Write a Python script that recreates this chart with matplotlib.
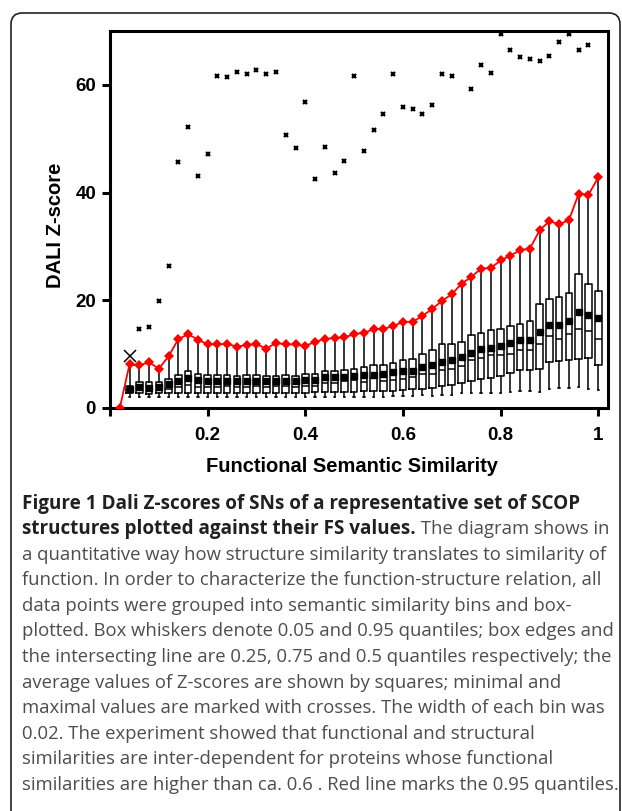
import matplotlib
matplotlib.use("Agg")
import matplotlib.pyplot as plt
import numpy as np
from matplotlib.patches import FancyBboxPatch

# ---------------- data ----------------
bins = [0.04, 0.06, 0.08, 0.10, 0.12, 0.14, 0.16, 0.18, 0.20,
        0.22, 0.24, 0.26, 0.28, 0.30, 0.32, 0.34, 0.36, 0.38, 0.40,
        0.42, 0.44, 0.46, 0.48, 0.50, 0.52, 0.54, 0.56, 0.58, 0.60,
        0.62, 0.64, 0.66, 0.68, 0.70, 0.72, 0.74, 0.76, 0.78, 0.80,
        0.82, 0.84, 0.86, 0.88, 0.90, 0.92, 0.94, 0.96, 0.98, 1.00]

q95 = [8.1, 7.9, 8.5, 7.3, 9.6, 12.8, 13.7, 12.7, 11.8,
       11.8, 11.9, 11.4, 11.7, 11.9, 11.0, 12.1, 11.8, 11.8, 11.5,
       12.3, 12.8, 13.0, 13.1, 13.7, 14.0, 14.6, 14.7, 15.2, 16.0,
       16.0, 17.1, 18.4, 19.9, 21.1, 23.1, 24.3, 25.9, 26.0, 27.4,
       28.3, 29.3, 29.6, 33.0, 34.7, 34.1, 34.9, 39.8, 39.6, 42.8]

q75 = [4.0, 4.9, 4.8, 4.8, 5.3, 6.2, 6.8, 6.4, 6.2,
       6.2, 6.2, 6.0, 6.1, 6.2, 6.0, 6.0, 6.1, 6.0, 6.4,
       6.3, 6.9, 6.9, 7.0, 7.3, 7.6, 8.0, 8.0, 8.4, 8.9,
       9.1, 10.1, 10.7, 11.8, 11.8, 12.2, 13.5, 14.0, 14.4, 14.7,
       15.3, 15.6, 16.2, 19.3, 20.2, 20.7, 21.4, 24.9, 23.0, 21.8]

median = [3.4, 3.3, 3.1, 3.3, 3.6, 3.9, 4.3, 3.9, 3.9,
          3.9, 4.0, 3.9, 3.9, 4.0, 3.9, 4.0, 4.0, 3.9, 4.1,
          4.1, 4.6, 4.6, 5.0, 5.2, 4.9, 5.6, 5.1, 5.2, 5.4,
          5.7, 6.4, 6.4, 7.0, 7.3, 7.8, 8.9, 9.2, 9.8, 9.8,
          10.1, 10.7, 10.7, 11.9, 13.3, 12.9, 13.7, 14.6, 14.3, 12.9]

q25 = [2.8, 2.7, 2.6, 2.7, 2.7, 2.7, 2.7, 2.7, 2.7,
       2.7, 2.7, 2.7, 2.7, 2.7, 2.7, 2.8, 2.8, 2.8, 2.8,
       2.9, 3.0, 3.0, 2.9, 3.0, 3.1, 3.1, 3.1, 3.2, 3.3,
       3.5, 3.6, 3.8, 4.1, 4.3, 4.6, 5.1, 5.4, 5.6, 5.9,
       6.5, 7.1, 7.0, 7.2, 8.6, 8.8, 8.9, 9.1, 9.3, 8.0]

q05 = [2.1, 2.1, 2.0, 2.1, 2.1, 2.1, 2.1, 2.1, 2.1,
       2.1, 2.1, 2.1, 2.1, 2.1, 2.1, 2.1, 2.1, 2.1, 2.1,
       2.1, 2.1, 2.1, 2.1, 2.1, 2.1, 2.1, 2.1, 2.2, 2.2,
       2.2, 2.4, 2.3, 2.4, 2.5, 2.7, 2.7, 2.8, 2.7, 2.8,
       2.9, 3.1, 3.2, 3.0, 3.6, 3.7, 3.8, 3.9, 3.6, 3.3]

mean = [3.6, 3.9, 3.8, 3.9, 4.4, 5.1, 5.5, 5.2, 5.1,
        5.1, 5.1, 5.0, 5.0, 5.1, 5.0, 5.1, 5.1, 5.0, 5.2,
        5.2, 5.7, 5.7, 5.7, 5.9, 6.1, 6.2, 6.3, 6.6, 6.9,
        6.9, 7.7, 8.0, 8.6, 8.9, 9.5, 10.2, 10.9, 11.2, 11.5,
        12.1, 12.7, 12.7, 14.1, 15.4, 15.5, 16.1, 17.8, 17.3, 16.7]

maxima = [9.7, 14.6, 15.1, 19.8, 26.3, 45.7, 52.2, 43.0, 47.1,
          61.7, 61.4, 62.4, 62.0, 62.7, 62.1, 62.3, 50.6, 48.3, 56.8,
          42.5, 48.4, 43.6, 45.9, 61.7, 47.7, 51.6, 54.6, 62.0, 55.9,
          55.6, 54.5, 56.3, 62.0, 61.7, np.nan, 59.2, 63.6, 62.2, 69.4,
          66.4, 65.2, 64.8, 64.4, 65.3, 68.0, 69.5, 66.4, 67.4, np.nan]

# the 0.95-quantile line also has a point for the empty first bin
red_x = [0.02] + bins
red_y = [0.0] + q95

xticks = [0, 0.2, 0.4, 0.6, 0.8, 1.0]
xticklabels = ["", "0.2", "0.4", "0.6", "0.8", "1"]
yticks = [0, 20, 40, 60]
yticklabels = ["0", "20", "40", "60"]

caption_bold_1 = "Figure 1 Dali Z-scores of SNs of a representative set of SCOP"
caption_bold_2 = "structures plotted against their FS values."
caption_rest_2 = " The diagram shows in"
caption_lines = [
    "a quantitative way how structure similarity translates to similarity of",
    "function. In order to characterize the function-structure relation, all",
    "data points were grouped into semantic similarity bins and box-",
    "plotted. Box whiskers denote 0.05 and 0.95 quantiles; box edges and",
    "the intersecting line are 0.25, 0.75 and 0.5 quantiles respectively; the",
    "average values of Z-scores are shown by squares; minimal and",
    "maximal values are marked with crosses. The width of each bin was",
    "0.02. The experiment showed that functional and structural",
    "similarities are inter-dependent for proteins whose functional",
    "similarities are higher than ca. 0.6 . Red line marks the 0.95 quantiles.",
]

# ---------------- figure ----------------
W, H = 622, 811
fig = plt.figure(figsize=(W / 100, H / 100), dpi=100)

# rounded frame (open at bottom)
frame = FancyBboxPatch((11 / W, -0.05), (620 - 11) / W, (H - 13) / H + 0.05,
                       boxstyle="round,pad=0,rounding_size=0.018",
                       transform=fig.transFigure, fill=False,
                       edgecolor="#222222", linewidth=1.2,
                       mutation_aspect=W / H)
fig.patches.append(frame)

ax = fig.add_axes([110 / W, 1 - 408 / H, 498 / W, 377 / H])

stats = []
for i in range(len(bins)):
    stats.append(dict(med=median[i], q1=q25[i], q3=q75[i],
                      whislo=q05[i], whishi=q95[i], mean=mean[i],
                      fliers=[]))

lw = 1.1
ax.bxp(stats, positions=bins, widths=0.0135, showmeans=True,
       showfliers=False, manage_ticks=False, capwidths=0.003,
       boxprops=dict(color="black", linewidth=lw),
       whiskerprops=dict(color="black", linewidth=lw),
       capprops=dict(color="black", linewidth=lw),
       medianprops=dict(color="black", linewidth=lw),
       meanprops=dict(marker="s", markerfacecolor="black",
                      markeredgecolor="black", markersize=4.2))

ax.plot(red_x, red_y, color="#ff0000", linewidth=1.3, marker="D",
        markersize=5.5, markeredgewidth=0, zorder=5)

# maxima crosses (first bin drawn with larger cross)
ax.plot(bins[1:], maxima[1:], linestyle="none", marker="x", markersize=3.2,
        markeredgewidth=1.6, color="black", zorder=6)
ax.plot(bins[:1], maxima[:1], linestyle="none", marker="x", markersize=8,
        markeredgewidth=1.1, color="black", zorder=6)

ax.set_xlim(0, 1.02)
ax.set_ylim(0, 70)

for s in ax.spines.values():
    s.set_linewidth(2.2)

tick_font = dict(family="Liberation Sans", weight="bold", size=13.5)
ax.set_xticks(xticks)
ax.set_xticklabels(xticklabels, fontdict=tick_font)
ax.set_yticks(yticks)
ax.set_yticklabels(yticklabels, fontdict=tick_font)
ax.tick_params(direction="out", length=6, width=2.2, pad=4)
ax.tick_params(axis="x", pad=8)

ax.set_xlabel("Functional Semantic Similarity", family="Liberation Sans",
              weight="bold", size=14.5)
ax.xaxis.set_label_coords(0.485, -0.13)
ax.set_ylabel("DALI Z-score", family="Liberation Sans", weight="bold",
              size=14.5)
ax.yaxis.set_label_coords(-0.09, 0.485)

# ---------------- caption ----------------
cap_font = "Open Sans"
bold_size = 13.6
reg_size = 13.3
x0 = 22.5 / W
base0 = 508.5
step = 25.6
dark = "#231f20"
grey = "#4d4d4d"

fig.text(x0, 1 - base0 / H, caption_bold_1, family=cap_font, weight="bold",
         size=bold_size, color=dark, va="baseline", ha="left")
t = fig.text(x0, 1 - (base0 + step) / H, caption_bold_2, family=cap_font,
             weight="bold", size=bold_size, color=dark, va="baseline",
             ha="left")
fig.canvas.draw()
bb = t.get_window_extent(renderer=fig.canvas.get_renderer())
fig.text(bb.x1 / W, 1 - (base0 + step) / H, caption_rest_2, family=cap_font,
         size=reg_size, color=grey, va="baseline", ha="left")
for k, line in enumerate(caption_lines):
    fig.text(x0, 1 - (base0 + step * (k + 2)) / H, line, family=cap_font,
             size=reg_size, color=grey, va="baseline", ha="left")

fig.savefig("out.png", dpi=100)
